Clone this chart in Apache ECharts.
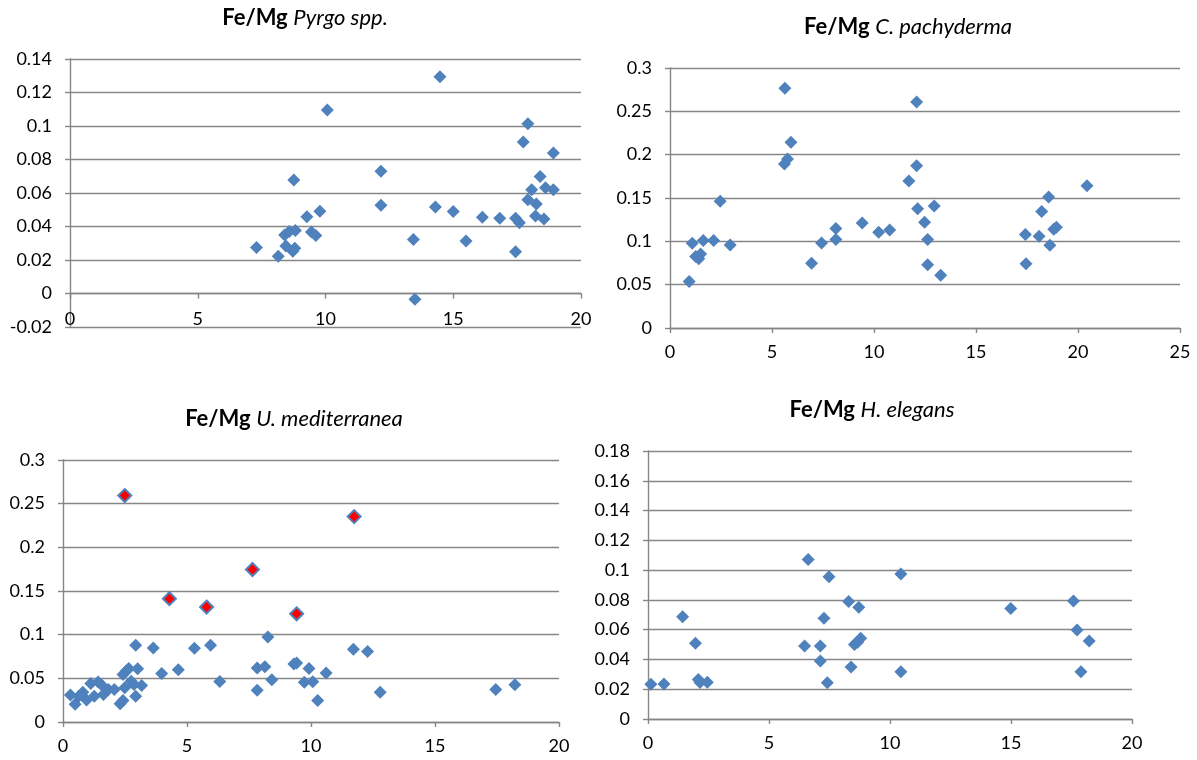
<!DOCTYPE html>
<html>
<head>
<meta charset="utf-8">
<title>Fe/Mg</title>
<script src="https://cdn.jsdelivr.net/npm/echarts@6/dist/echarts.min.js"></script>
<style>
  html, body { margin: 0; padding: 0; background: #ffffff; }
  #chart { width: 1197px; height: 760px; }
</style>
</head>
<body>
<div id="chart"></div>
<script>
// Fe/Mg ratios of four foraminifera taxa, [x, Fe/Mg]
const pyrgo = [
  [7.3, 0.0275], [8.15, 0.0222], [8.4, 0.0350], [8.45, 0.0283], [8.58, 0.0370],
  [8.76, 0.0678], [8.72, 0.0252], [8.8, 0.0270], [8.82, 0.0376], [9.27, 0.0458],
  [9.45, 0.0367], [9.62, 0.0347], [9.78, 0.0491], [10.07, 0.1095], [12.17, 0.0730],
  [12.17, 0.0527], [13.44, 0.0323], [13.5, -0.0035], [14.3, 0.0516], [14.48, 0.1294],
  [15.0, 0.0489], [15.5, 0.0313], [16.14, 0.0455], [16.82, 0.0449], [17.44, 0.0249],
  [17.44, 0.0450], [17.59, 0.0423], [17.74, 0.0905], [17.92, 0.1013], [17.92, 0.0560],
  [18.07, 0.0620], [18.22, 0.0463], [18.25, 0.0534], [18.4, 0.0698], [18.55, 0.0445],
  [18.61, 0.0632], [18.92, 0.0839], [18.92, 0.0620]
];

const pachyderma = [
  [0.94, 0.0537], [1.09, 0.0978], [1.26, 0.0825], [1.41, 0.0798], [1.5, 0.0855],
  [1.63, 0.1009], [2.14, 0.1009], [2.46, 0.1462], [2.95, 0.0959], [5.63, 0.2766],
  [5.61, 0.1891], [5.76, 0.1949], [5.93, 0.2144], [6.94, 0.0748], [7.43, 0.0982],
  [8.13, 0.1147], [8.13, 0.1020], [9.42, 0.1212], [10.23, 0.1105], [10.77, 0.1132],
  [11.71, 0.1696], [12.09, 0.2609], [12.09, 0.1872], [12.14, 0.1377], [12.48, 0.1220],
  [12.63, 0.1020], [12.63, 0.0729], [12.95, 0.1408], [13.27, 0.0610], [17.42, 0.1078],
  [17.45, 0.0740], [18.09, 0.1059], [18.22, 0.1343], [18.56, 0.1512], [18.62, 0.0955],
  [18.81, 0.1139], [18.94, 0.1162], [20.44, 0.1642]
];

const mediterranea = [
  [0.3, 0.0310], [0.49, 0.0202], [0.64, 0.0296], [0.8, 0.0340], [0.95, 0.0252],
  [1.12, 0.0440], [1.26, 0.0296], [1.42, 0.0459], [1.58, 0.0417], [1.63, 0.0316],
  [1.83, 0.0373], [2.07, 0.0373], [2.3, 0.0210], [2.42, 0.0545], [2.42, 0.0245],
  [2.55, 0.0583], [2.65, 0.0614], [2.49, 0.0391], [2.75, 0.0468], [2.86, 0.0430],
  [2.93, 0.0879], [2.93, 0.0295], [3.01, 0.0610], [3.17, 0.0418], [3.64, 0.0848],
  [3.98, 0.0556], [4.65, 0.0598], [5.3, 0.0844], [5.95, 0.0879], [6.32, 0.0464],
  [7.83, 0.0618], [7.83, 0.0364], [8.14, 0.0633], [8.26, 0.0974], [8.42, 0.0483],
  [9.31, 0.0664], [9.42, 0.0675], [9.73, 0.0456], [9.92, 0.0614], [10.07, 0.0460],
  [10.27, 0.0245], [10.61, 0.0560], [11.71, 0.0832], [12.28, 0.0806], [12.79, 0.0341],
  [17.45, 0.0372], [18.22, 0.0426]
];

const mediterraneaHigh = [
  [2.49, 0.2593], [4.29, 0.1412], [5.79, 0.1316], [7.64, 0.1746], [9.42, 0.1239],
  [11.74, 0.2352]
];

const elegans = [
  [0.12, 0.0233], [0.66, 0.0235], [1.43, 0.0687], [1.96, 0.0508], [2.08, 0.0265],
  [2.15, 0.0245], [2.45, 0.0246], [6.47, 0.0490], [6.62, 0.1072], [7.12, 0.0490],
  [7.12, 0.0390], [7.27, 0.0676], [7.41, 0.0244], [7.48, 0.0956], [8.29, 0.0790],
  [8.39, 0.0349], [8.53, 0.0501], [8.71, 0.0750], [8.66, 0.0515], [8.79, 0.0542],
  [10.45, 0.0974], [10.45, 0.0318], [14.99, 0.0743], [17.58, 0.0793], [17.73, 0.0598],
  [17.89, 0.0318], [18.23, 0.0524]
];

const taxa = ['Pyrgo spp.', 'C. pachyderma', 'U. mediterranea', 'H. elegans'];
const xMax = [20, 25, 20, 20];
const yMin = [-0.02, 0, 0, 0];
const yMax = [0.14, 0.3, 0.3, 0.18];
const yStep = [0.02, 0.05, 0.05, 0.02];

const FONT = 'Lato, "Open Sans", sans-serif';
const GRID_GREY = '#868686';
const BLUE = '#4F81BD';

const grids = [
  { left: 70, top: 59, width: 511, height: 268 },
  { left: 670, top: 68, width: 510, height: 260 },
  { left: 63, top: 460, width: 496, height: 262 },
  { left: 648, top: 451, width: 484, height: 268 }
];
const titlePos = [[305, 18], [908, 27], [294, 419], [872, 410]];

const lineStyle = { color: GRID_GREY, width: 1.4 };
const labelStyle = { fontSize: 18, color: '#000', fontFamily: FONT };

const xAxes = [];
const yAxes = [];
grids.forEach((g, i) => {
  // panel 0 has negative values: axis line crosses at zero, labels sit at the bottom
  const splitLabels = yMin[i] < 0;
  xAxes.push({
    type: 'value', gridIndex: i, min: 0, max: xMax[i], interval: 5,
    axisLine: { show: true, onZero: true, lineStyle },
    axisTick: { show: true, length: 5, lineStyle },
    axisLabel: Object.assign({ show: !splitLabels, margin: 15 }, labelStyle),
    splitLine: { show: false }
  });
  yAxes.push({
    type: 'value', gridIndex: i, min: yMin[i], max: yMax[i], interval: yStep[i],
    axisLine: { show: true, lineStyle },
    axisTick: { show: true, length: 5, lineStyle },
    axisLabel: Object.assign({ margin: 18 }, labelStyle),
    splitLine: { show: true, lineStyle }
  });
});
// bottom label row for the first panel
xAxes.push({
  type: 'value', gridIndex: 0, position: 'bottom', min: 0, max: xMax[0], interval: 5,
  axisLine: { show: false, onZero: false },
  axisTick: { show: false },
  axisLabel: Object.assign({ margin: -17 }, labelStyle),
  splitLine: { show: false }
});

function scatter(idx, data, style) {
  return {
    type: 'scatter', xAxisIndex: idx, yAxisIndex: idx, data,
    symbol: 'diamond', symbolSize: 13,
    itemStyle: Object.assign({ opacity: 1 }, style || { color: BLUE }),
    emphasis: { disabled: true },
    animation: false
  };
}

const series = [
  scatter(0, pyrgo),
  scatter(1, pachyderma),
  scatter(2, mediterranea),
  scatter(2, mediterraneaHigh, { color: '#FF0000', borderColor: BLUE, borderWidth: 2 }),
  scatter(3, elegans)
];

const graphic = taxa.map((name, i) => ({
  type: 'text',
  x: titlePos[i][0],
  y: titlePos[i][1],
  style: {
    text: '{b|Fe/Mg} {i|' + name + '}',
    align: 'center', textAlign: 'center',
    verticalAlign: 'middle', textVerticalAlign: 'middle',
    fill: '#000',
    font: '22px ' + FONT,
    rich: {
      b: { fontWeight: 'bold', fontSize: 22, fontFamily: FONT, fill: '#000', color: '#000' },
      i: { fontStyle: 'italic', fontSize: 22, fontFamily: FONT, fill: '#000', color: '#000' }
    }
  }
}));

const chart = echarts.init(document.getElementById('chart'), null, { renderer: 'canvas' });
chart.setOption({
  backgroundColor: '#ffffff',
  animation: false,
  grid: grids,
  xAxis: xAxes,
  yAxis: yAxes,
  series,
  graphic
});
</script>
</body>
</html>
